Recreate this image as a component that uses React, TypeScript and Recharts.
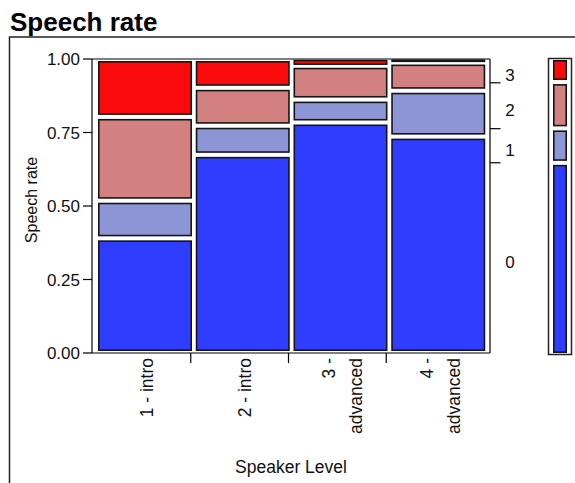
import React from 'react';
import { BarChart, Bar, Line, XAxis, YAxis, ReferenceLine, ComposedChart } from 'recharts';

// share of each speech-rate score within a speaker level (columns sum to 1)
const levels = ['1 - intro', '2 - intro', '3 - advanced', '4 - advanced'];
const rate0 = [0.39, 0.674, 0.784, 0.736];
const rate1 = [0.128, 0.099, 0.078, 0.156];
const rate2 = [0.285, 0.129, 0.115, 0.096];
const rate3 = [0.197, 0.098, 0.023, 0.012];

// share of each score over all levels (right axis + legend bar)
const overallShare = [0.647, 0.116, 0.156, 0.081];
const rateNames = ['0', '1', '2', '3'];
const rateColors = ['#2e3dff', '#8c96d6', '#d38080', '#fa0a0a'];
const yTicks = [0, 0.25, 0.5, 0.75, 1];

const FONT = '"Liberation Sans", Arial, sans-serif';
const BAND = 97.75;

const data = levels.map((level, i) => ({
  level,
  r0: rate0[i],
  r1: rate1[i],
  r2: rate2[i],
  r3: rate3[i],
}));

const legendData = [
  { name: 'all', r0: overallShare[0], r1: overallShare[1], r2: overallShare[2], r3: overallShare[3] },
];

// boundaries between scores on the right axis, labels in the middle of each
const tops: number[] = [];
overallShare.reduce((acc, v) => {
  tops.push(acc + v);
  return acc + v;
}, 0);
const bounds = tops.slice(0, -1);
const mids = tops.map((t, i) => t - overallShare[i] / 2);
const rightTicks = [mids[0], bounds[0], mids[1], bounds[1], mids[2], bounds[2], mids[3]];

function MosaicCell(props: any) {
  const { x, y, width, height, fill } = props;
  const sw = 1.6;
  const gx = 2;
  // thin cells keep less white around them so the colour still shows
  const gy = Math.min(2, height * 0.12);
  return (
    <rect
      x={x + gx + sw / 2}
      y={y + gy + sw / 2}
      width={Math.max(width - 2 * gx - sw, 0)}
      height={Math.max(height - 2 * gy - sw, 0.5)}
      fill={fill}
      stroke="#151515"
      strokeWidth={sw}
    />
  );
}

function LevelTick(props: any) {
  const { x, y, payload, index } = props;
  const label: string = payload.value;
  let lines = [label];
  if (label.length > 10) {
    const k = label.lastIndexOf(' ');
    lines = [label.slice(0, k), label.slice(k + 1)];
  }
  const offsets = lines.length === 1 ? [8] : [-5, 22];
  const sep = x + BAND / 2 - 3;
  return (
    <g>
      {index < levels.length - 1 && (
        <line x1={sep} x2={sep} y1={y - 5} y2={y + 5} stroke="#000" strokeWidth={1.2} />
      )}
      {lines.map((ln, i) => {
        const bx = x + offsets[i];
        return (
          <text
            key={i}
            x={bx}
            y={y}
            transform={`rotate(-90, ${bx}, ${y})`}
            textAnchor="end"
            fontSize={17.5}
            fontFamily={FONT}
            fill="#111"
          >
            {ln}
          </text>
        );
      })}
    </g>
  );
}

function MarginTick(props: any) {
  const { x, y, payload } = props;
  const v = payload.value;
  const b = bounds.findIndex((t) => Math.abs(t - v) < 1e-6);
  if (b >= 0) {
    return <line x1={x} x2={x + 10.5} y1={y} y2={y} stroke="#000" strokeWidth={1.2} />;
  }
  const i = mids.findIndex((t) => Math.abs(t - v) < 1e-6);
  return (
    <text x={x + 20} y={y + 4} dy="0.35em" textAnchor="middle" fontSize={17} fontFamily={FONT} fill="#111">
      {rateNames[i]}
    </text>
  );
}

export default function App() {
  return (
    <div style={{ position: 'absolute', left: 0, top: 0, width: 575, height: 483, background: '#fff' }}>
      <ComposedChart
        width={575}
        height={483}
        data={data}
        margin={{ top: 59, right: 0, bottom: 0, left: 0 }}
        barCategoryGap={0}
        barGap={0}
      >
        <XAxis
          dataKey="level"
          height={130}
          padding={{ left: 4, right: 3 }}
          axisLine={{ stroke: '#000', strokeWidth: 1.2 }}
          tickLine={false}
          tickSize={0}
          tickMargin={5}
          interval={0}
          tick={<LevelTick />}
          label={{ value: 'Speaker Level', position: 'insideBottom', offset: 10, fontSize: 17.5, fontFamily: FONT, fill: '#111' }}
        />
        <YAxis
          width={92}
          domain={[0, 1]}
          ticks={yTicks}
          interval={0}
          tickFormatter={(v: number) => v.toFixed(2)}
          tickSize={9}
          tickMargin={3}
          axisLine={{ stroke: '#000', strokeWidth: 1.2 }}
          tickLine={{ stroke: '#000', strokeWidth: 1.2 }}
          tick={{ fontSize: 17, fontFamily: FONT, fill: '#111' }}
        />
        <YAxis
          yAxisId="r"
          orientation="right"
          type="number"
          width={85}
          domain={[0, 1]}
          ticks={rightTicks}
          interval={0}
          tickLine={false}
          tickSize={0}
          tickMargin={0}
          axisLine={{ stroke: '#000', strokeWidth: 1.2 }}
          tick={<MarginTick />}
        />
        <Bar dataKey="r0" stackId="s" fill={rateColors[0]} shape={<MosaicCell />} isAnimationActive={false} />
        <Bar dataKey="r1" stackId="s" fill={rateColors[1]} shape={<MosaicCell />} isAnimationActive={false} />
        <Bar dataKey="r2" stackId="s" fill={rateColors[2]} shape={<MosaicCell />} isAnimationActive={false} />
        <Bar dataKey="r3" stackId="s" fill={rateColors[3]} shape={<MosaicCell />} isAnimationActive={false} />
        {/* carries the right-hand marginal axis, draws nothing */}
        <Line yAxisId="r" dataKey="r0" stroke="none" dot={false} activeDot={false} legendType="none" isAnimationActive={false} />
        <ReferenceLine y={1} stroke="#000" strokeWidth={1.2} />
      </ComposedChart>

      <div style={{ position: 'absolute', left: 548, top: 58, width: 24, height: 297 }}>
        <BarChart
          width={24}
          height={297}
          data={legendData}
          margin={{ top: 0, right: 3, bottom: 0, left: 3 }}
          barCategoryGap={0}
          barGap={0}
        >
          <XAxis dataKey="name" hide />
          <YAxis domain={[0, 1]} hide />
          <Bar dataKey="r0" stackId="s" fill={rateColors[0]} shape={<MosaicCell />} isAnimationActive={false} />
          <Bar dataKey="r1" stackId="s" fill={rateColors[1]} shape={<MosaicCell />} isAnimationActive={false} />
          <Bar dataKey="r2" stackId="s" fill={rateColors[2]} shape={<MosaicCell />} isAnimationActive={false} />
          <Bar dataKey="r3" stackId="s" fill={rateColors[3]} shape={<MosaicCell />} isAnimationActive={false} />
        </BarChart>
      </div>

      <svg
        width={575}
        height={483}
        style={{ position: 'absolute', left: 0, top: 0, pointerEvents: 'none' }}
      >
        <text x={10} y={31} fontSize={26} fontWeight="bold" fontFamily={FONT} fill="#000">
          Speech rate
        </text>
        <path d="M9.5 483 V37 H575" fill="none" stroke="#222" strokeWidth={1.5} />
        <rect x={548.5} y={58.5} width={23} height={296} fill="none" stroke="#222" strokeWidth={1.5} />
        <text
          x={31}
          y={200}
          transform="rotate(-90, 31, 200)"
          textAnchor="middle"
          dy="0.355em"
          fontSize={16}
          fontFamily={FONT}
          fill="#111"
        >
          Speech rate
        </text>
      </svg>
    </div>
  );
}
